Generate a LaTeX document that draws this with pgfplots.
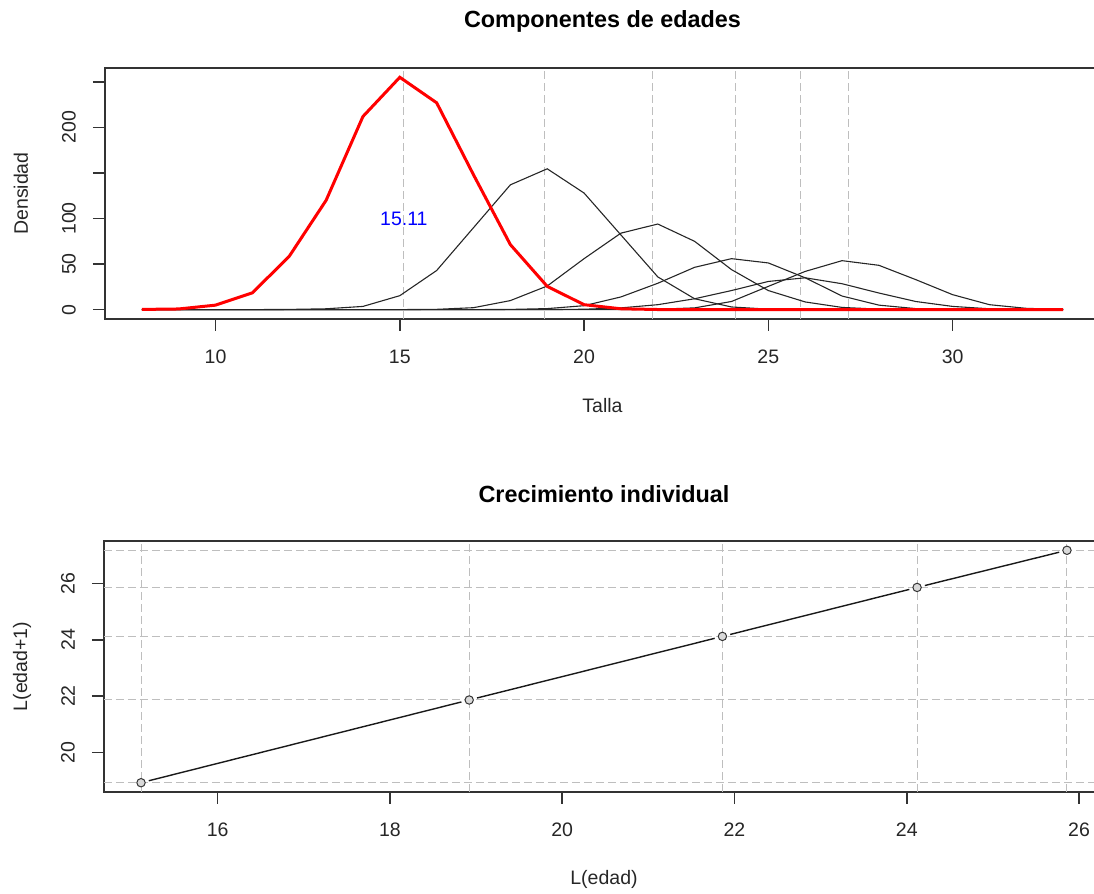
\documentclass[border=0pt]{standalone}
\usepackage{pgfplots}
\pgfplotsset{compat=1.18}
\usepackage{pgfplotstable}
\usepackage{fontspec}
\setmainfont{Liberation Sans}
\definecolor{rgrid}{HTML}{BEBEBE}
\definecolor{rbox}{HTML}{333333}
\definecolor{rred}{HTML}{FF0000}
\definecolor{rblue}{HTML}{0000FF}

\pgfplotstableread{
x  c1    c2    c3   c4   c5   c6
8  0.3   0     0    0    0    0
9  0.8   0     0    0    0    0
10 5     0     0    0    0    0
11 18.5  0.1   0    0    0    0
12 58.6  0.3   0    0    0    0
13 120   1     0    0    0    0
14 212   3.6   0    0    0    0
15 255   15.4  0.1  0    0    0
16 227   43    0.4  0    0    0
17 148   90    2.2  0.1  0    0
18 71.4  137   10   0.3  0    0
19 25.6  154.6 26   1.2  0.1  0
20 5.5   128   56   4.4  0.5  0
21 1     82    84   14   2    0.1
22 0.2   36    94   29   5.5  0.5
23 0     12    75   46.5 12   2
24 0     3     44   56   21   9
25 0     0.6   21   51.3 31   25.6
26 0     0.1   8.5  35   35   42
27 0     0     2.5  15   28.5 53.8
28 0     0     0.6  5    18.3 48.7
29 0     0     0.1  1.2  9    33
30 0     0     0    0.3  3.6  16.5
31 0     0     0    0    1    5.5
32 0     0     0    0    0.3  1.5
33 0     0     0    0    0.1  0.3
}\comps

\pgfplotstableread{
x     y
15.11 18.92
18.92 21.86
21.86 24.12
24.12 25.86
25.86 27.18
}\growth

\pgfplotsset{
  rstyle/.style={
    scale only axis,
    anchor=south west,
    axis line style={rbox, line width=0.9pt},
    tick style={rbox, line width=0.8pt},
    tick align=outside,
    major tick length=6pt,
    xtick pos=bottom, ytick pos=left,
    tick label style={font=\fontsize{9.75}{11}\selectfont, text=black!85},
    label style={font=\fontsize{9.75}{11}\selectfont, text=black!85},
    title style={font=\fontsize{11.7}{13}\selectfont\bfseries, anchor=center},
    /pgf/number format/assume math mode=true,
    xticklabel shift=6pt,
    yticklabel shift=5pt,
    yticklabel style={rotate=90, anchor=south},
    xlabel style={anchor=center},
    ylabel style={anchor=center},
    extra tick style={grid=major, major tick length=0pt, tick style={draw=none}},
    major grid style={rgrid, dash pattern=on 4pt off 2pt, line width=0.5pt},
  }
}

\begin{document}
\begin{tikzpicture}
\path[use as bounding box] (0pt,0pt) rectangle (547pt,447pt);

% ---------- top: Componentes de edades ----------
\begin{axis}[rstyle,
  at={(52.5pt,287.5pt)}, width=497.5pt, height=125.5pt,
  xmin=7, xmax=34, ymin=-10.2, ymax=265.2,
  xtick={10,15,20,25,30},
  ytick={0,50,100,150,200,250},
  yticklabels={0,50,100,,200,},
  extra x ticks={15.11,18.92,21.86,24.12,25.86,27.18},
  extra x tick labels={},
  title={Componentes de edades},
  title style={at={(axis description cs:0.5,1.139)}},
  xlabel={Talla},
  xlabel style={at={(axis description cs:0.5,-0.343)}},
  ylabel={Densidad},
  ylabel style={at={(axis description cs:-0.0844,0.5)}},
]
\addplot[black!85, line width=0.55pt] table[x=x, y=c2] {\comps};
\addplot[black!85, line width=0.55pt] table[x=x, y=c3] {\comps};
\addplot[black!85, line width=0.55pt] table[x=x, y=c4] {\comps};
\addplot[black!85, line width=0.55pt] table[x=x, y=c5] {\comps};
\addplot[black!85, line width=0.55pt] table[x=x, y=c6] {\comps};
\addplot[rred, line width=1.5pt] table[x=x, y=c1] {\comps};
\node[text=rblue, font=\fontsize{9.75}{11}\selectfont] at (axis cs:15.11,100) {15.11};
\end{axis}

% ---------- bottom: Crecimiento individual ----------
\begin{axis}[rstyle,
  at={(52pt,51pt)}, width=500pt, height=125.5pt,
  xmin=14.68, xmax=26.29, ymin=18.59, ymax=27.51,
  xtick={16,18,20,22,24,26},
  ytick={20,22,24,26},
  extra x ticks={15.11,18.92,21.86,24.12,25.86},
  extra x tick labels={},
  extra y ticks={18.92,21.86,24.12,25.86,27.18},
  extra y tick labels={},
  title={Crecimiento individual},
  title style={at={(axis description cs:0.5,1.139)}},
  xlabel={L(edad)},
  xlabel style={at={(axis description cs:0.5,-0.347)}},
  ylabel={L(edad+1)},
  ylabel style={at={(axis description cs:-0.082,0.5)}},
]
\addplot[black!90, line width=0.7pt, shorten <=4pt, shorten >=4pt] coordinates {(15.11,18.92) (18.92,21.86)};
\addplot[black!90, line width=0.7pt, shorten <=4pt, shorten >=4pt] coordinates {(18.92,21.86) (21.86,24.12)};
\addplot[black!90, line width=0.7pt, shorten <=4pt, shorten >=4pt] coordinates {(21.86,24.12) (24.12,25.86)};
\addplot[black!90, line width=0.7pt, shorten <=4pt, shorten >=4pt] coordinates {(24.12,25.86) (25.86,27.18)};
\addplot[only marks, mark=*, mark size=2.1pt, mark options={fill=black!15, draw=black!80, line width=0.5pt}] table[x=x, y=y] {\growth};
\end{axis}
\end{tikzpicture}
\end{document}
